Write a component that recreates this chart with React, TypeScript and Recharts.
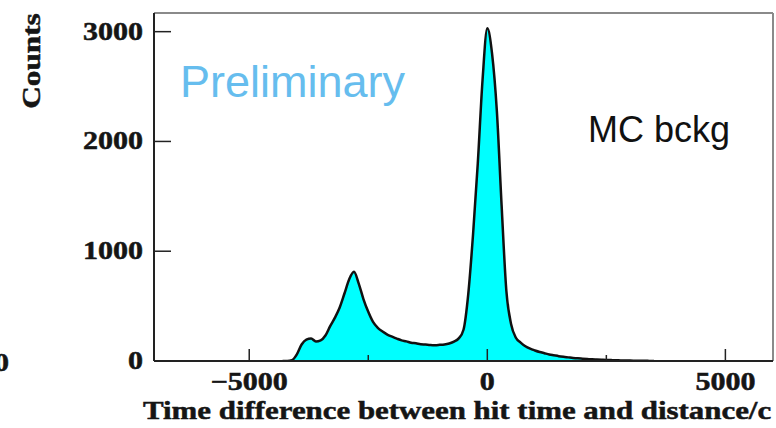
import React from 'react';
import { AreaChart, Area, XAxis, YAxis, ReferenceLine } from 'recharts';

// Histogram of time differences (hit time minus distance/c), MC background sample.
// Bins are 100 wide, first bin centred at -4300.
const BIN_START = -4300;
const BIN_WIDTH = 100;
const counts = [
  0, 0, 8, 60, 150, 195, 205, 178, 188, 232,
  318, 395, 488, 615, 745, 812, 705, 562, 448, 356,
  302, 268, 241, 222, 204, 188, 179, 166, 161, 153,
  150, 146, 144, 147, 151, 160, 176, 206, 285, 610,
  1150, 1800, 2560, 3030, 2800, 2280, 1420, 640, 335, 212,
  168, 134, 112, 96, 82, 71, 60, 52, 44, 38,
  33, 28, 24, 21, 18, 15, 13, 11, 9, 8,
  7, 5, 4, 4, 3, 2, 2, 1, 0,
];

const xTicks = [-5000, -2500, 0, 2500, 5000];
const xTickLabels: Record<number, string> = { [-5000]: '\u22125000', 0: '0', 5000: '5000' };
const yTicks = [0, 1000, 2000, 3000];

const X_DOMAIN: [number, number] = [-7000, 6000];
const Y_DOMAIN: [number, number] = [0, 3170];

const histData = counts.map((c, i) => ({ time: BIN_START + i * BIN_WIDTH, counts: c }));

const serifBold: React.CSSProperties = {
  fontFamily: '"Liberation Serif", "Times New Roman", serif',
  fontWeight: 'bold',
  fill: '#151515',
  stroke: '#151515',
  strokeWidth: 0.5,
};

const Y_TICK_GAP = 11;
const X_TICK_GAP = 12;

const YTick = (props: any) => {
  const { x, y, payload } = props;
  const axisX = x + Y_TICK_GAP;
  return (
    <g>
      <line x1={axisX} y1={y} x2={axisX + 17} y2={y} stroke="#222" strokeWidth={1.5} />
      <g transform={`translate(${x},${y + 8}) scale(1.2,1)`}>
        <text x={0} y={0} textAnchor="end" fontSize={25} style={serifBold}>
          {payload.value}
        </text>
      </g>
    </g>
  );
};

const XTick = (props: any) => {
  const { x, y, payload } = props;
  const axisY = y - X_TICK_GAP;
  const label = xTickLabels[payload.value];
  const len = label !== undefined ? 12 : 6;
  return (
    <g>
      <line x1={x} y1={axisY} x2={x} y2={axisY - len} stroke="#222" strokeWidth={1.5} />
      {label !== undefined && (
        <g transform={`translate(${x},${y + 17}) scale(1.2,1)`}>
          <text x={0} y={0} textAnchor="middle" fontSize={25} style={serifBold}>
            {label}
          </text>
        </g>
      )}
    </g>
  );
};

const XTitle = (props: any) => {
  const { viewBox } = props;
  const x = viewBox.x - 11;
  const y = viewBox.y + 58;
  return (
    <g transform={`translate(${x},${y}) scale(1.188,1)`}>
      <text x={0} y={0} fontSize={26} style={serifBold}>
        Time difference between hit time and distance/c
      </text>
    </g>
  );
};

const YTitle = (props: any) => {
  const { viewBox } = props;
  const cx = viewBox.x + 40;
  const cy = viewBox.y + 48;
  return (
    <g transform={`translate(${cx},${cy}) rotate(-90) scale(1.2,1)`}>
      <text x={0} y={0} textAnchor="middle" fontSize={26} style={serifBold}>
        Counts
      </text>
    </g>
  );
};

export default function App() {
  return (
    <div style={{ position: 'absolute', left: 0, top: 0, width: 776, height: 428, background: '#fff', overflow: 'hidden' }}>
      <AreaChart
        width={776}
        height={428}
        data={histData}
        margin={{ top: 13, right: 3, bottom: 0, left: 0 }}
      >
        <XAxis
          dataKey="time"
          type="number"
          domain={X_DOMAIN}
          ticks={xTicks}
          interval={0}
          allowDataOverflow
          height={67}
          tickSize={0}
          tickMargin={X_TICK_GAP}
          tickLine={false}
          axisLine={{ stroke: '#222', strokeWidth: 2 }}
          tick={<XTick />}
          label={<XTitle />}
        />
        <YAxis
          type="number"
          domain={Y_DOMAIN}
          ticks={yTicks}
          interval={0}
          allowDataOverflow
          width={154}
          tickSize={0}
          tickMargin={Y_TICK_GAP}
          tickLine={false}
          axisLine={{ stroke: '#222', strokeWidth: 2 }}
          tick={<YTick />}
          label={<YTitle />}
        />
        <ReferenceLine y={Y_DOMAIN[1]} stroke="#8a8a8a" strokeWidth={2} />
        <ReferenceLine x={X_DOMAIN[1]} stroke="#8a8a8a" strokeWidth={2} />
        <Area
          type="monotone"
          dataKey="counts"
          stroke="#111"
          strokeWidth={2.5}
          fill="#00FFFF"
          fillOpacity={1}
          dot={false}
          activeDot={false}
          isAnimationActive={false}
        />
      </AreaChart>
      <svg width={776} height={428} style={{ position: 'absolute', left: 0, top: 0, pointerEvents: 'none' }}>
        <text x={180} y={97} fontSize={45} fill="#66BDEE" fontFamily='"Liberation Sans", Arial, sans-serif'>
          Preliminary
        </text>
        <text x={588} y={142} fontSize={36} fill="#111" fontFamily='"Liberation Sans", Arial, sans-serif'>
          MC bckg
        </text>
        <g transform="translate(9,371) scale(1.2,1)">
          <text x={0} y={0} textAnchor="end" fontSize={25} style={serifBold}>0</text>
        </g>
      </svg>
    </div>
  );
}
